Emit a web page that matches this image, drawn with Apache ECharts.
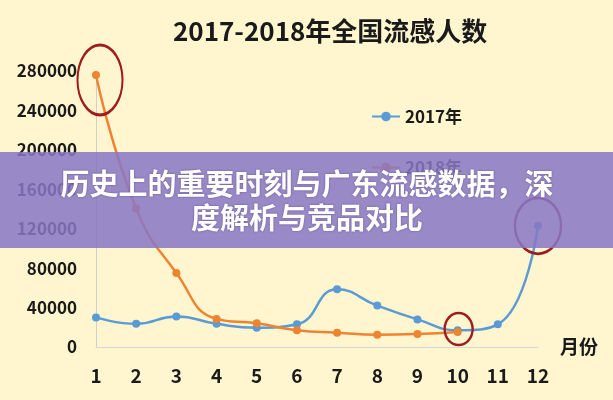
<!DOCTYPE html>
<html>
<head>
<meta charset="utf-8">
<script src="https://cdn.jsdelivr.net/npm/echarts@6/dist/echarts.min.js"></script>
<style>
html,body{margin:0;padding:0;background:#fff5cf;}
#main{width:613px;height:400px;}
</style>
</head>
<body>
<div id="main"></div>
<script>
const months = ['1','2','3','4','5','6','7','8','9','10','11','12'];
const s2017 = [30000, 23500, 31000, 23500, 19500, 23000, 58500, 42000, 28000, 17000, 23000, 123000];
const s2018 = [276000, 140500, 75000, 28500, 24000, 17000, 14500, 12500, 13200, 15200];
const yTicks = [0, 40000, 80000, 120000, 160000, 200000, 240000, 280000];
const titleText = '2017-2018年全国流感人数';
const bannerText = '历史上的重要时刻与广东流感数据，深\n度解析与竞品对比';

const FONT = '"Noto Sans CJK SC", "Noto Sans", sans-serif';
const ellipsePath = 'path://M0,50 A50,50 0 1,1 100,50 A50,50 0 1,1 0,50 Z';
const ringStyle = {color: 'rgba(0,0,0,0)', borderColor: '#9e1c1c', borderWidth: 2.5};

const chart = echarts.init(document.getElementById('main'));
chart.setOption({
  backgroundColor: '#fff5cf',
  animation: false,
  title: {
    text: titleText,
    left: 168, top: 13,
    textStyle: {fontFamily: FONT, fontWeight: 'bold', fontSize: 26, color: '#1a1a1a'}
  },
  legend: {
    orient: 'vertical',
    left: 366, top: 103,
    itemWidth: 28, itemHeight: 12, itemGap: 34,
    textStyle: {fontFamily: FONT, fontWeight: 'bold', fontSize: 17, color: '#1a1a1a'},
    data: ['2017年', '2018年']
  },
  grid: {left: 96, right: 75, top: 71, bottom: 53},
  xAxis: {
    type: 'category',
    data: months,
    boundaryGap: false,
    name: '月份',
    nameGap: 22,
    nameTextStyle: {fontFamily: FONT, fontWeight: 'bold', fontSize: 19, color: '#1a1a1a'},
    axisLine: {lineStyle: {color: '#d6d6d6', width: 1}},
    axisTick: {show: false},
    axisLabel: {fontFamily: FONT, fontWeight: 'bold', fontSize: 19, color: '#1a1a1a', margin: 19},
    splitLine: {show: false}
  },
  yAxis: {
    type: 'value',
    min: yTicks[0], max: yTicks[yTicks.length - 1], interval: yTicks[1] - yTicks[0],
    axisLine: {show: true, lineStyle: {color: '#cfcfcf', width: 1}},
    axisTick: {show: false},
    splitLine: {show: false},
    axisLabel: {fontFamily: FONT, fontWeight: 'bold', fontSize: 17, color: '#1a1a1a', margin: 19,
      formatter: function (v) { return String(v); }}
  },
  series: [
    {
      name: '2017年', type: 'line', data: s2017, smooth: true,
      symbol: 'circle', symbolSize: 8,
      lineStyle: {color: '#5b9bd5', width: 2.5},
      itemStyle: {color: '#5b9bd5'},
      z: 3,
      markPoint: {
        symbol: ellipsePath, symbolKeepAspect: false,
        label: {show: false},
        itemStyle: ringStyle,
        data: [{coord: [11, s2017[11]], symbolSize: [46, 56], symbolOffset: [0, 0]}]
      }
    },
    {
      name: '2018年', type: 'line', data: s2018, smooth: true,
      symbol: 'circle', symbolSize: 8,
      lineStyle: {color: '#ee8430', width: 2.5},
      itemStyle: {color: '#ee8430'},
      z: 4,
      markPoint: {
        symbol: ellipsePath, symbolKeepAspect: false,
        label: {show: false},
        itemStyle: ringStyle,
        data: [
          {coord: [0, s2018[0]], symbolSize: [45, 70], symbolOffset: [4, 5]},
          {coord: [9, s2018[9]], symbolSize: [28, 32], symbolOffset: [1, -3]}
        ]
      }
    }
  ],
  graphic: [
    {
      type: 'rect', x: 0, y: 152, z: 100,
      shape: {width: 613, height: 96},
      style: {fill: 'rgba(136,119,197,0.86)'}
    },
    {
      type: 'text', x: 307, y: 167, z: 101,
      style: {
        text: bannerText,
        fill: '#ffffff',
        font: 'bold 29px ' + FONT,
        lineHeight: 34,
        align: 'center',
        verticalAlign: 'top',
        textShadowColor: 'rgba(60,40,100,0.6)',
        textShadowBlur: 2
      }
    }
  ]
});
</script>
</body>
</html>
